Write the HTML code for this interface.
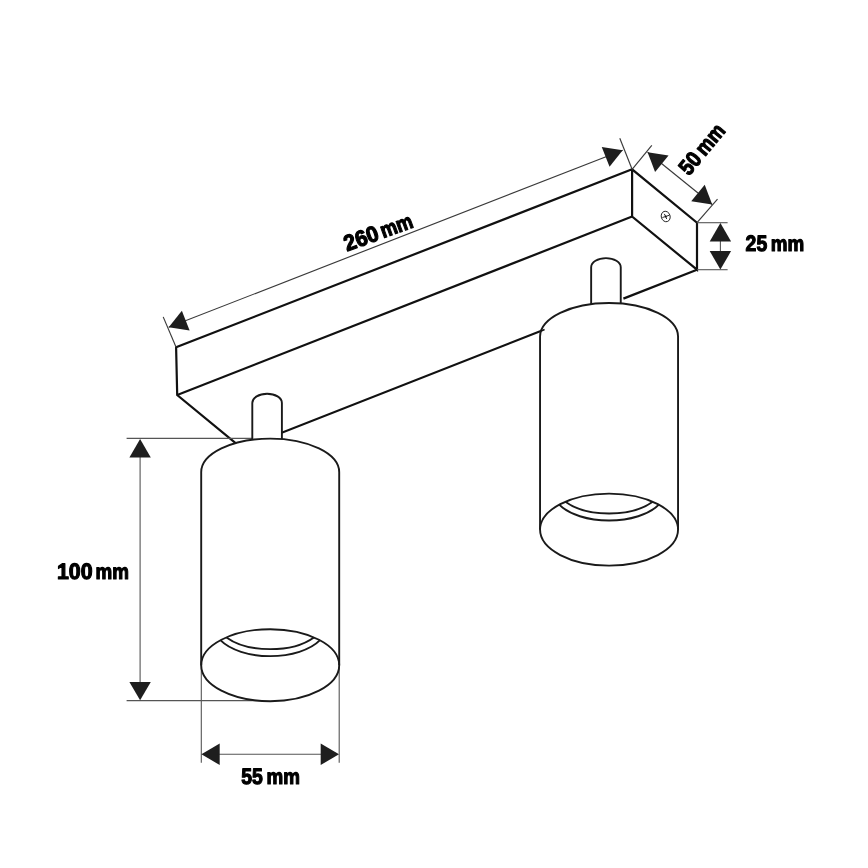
<!DOCTYPE html>
<html><head><meta charset="utf-8"><title>Spot light dimensions</title>
<style>
html,body{margin:0;padding:0;background:#fff;width:868px;height:868px;overflow:hidden}
svg{display:block;will-change:transform}
.ol{stroke:#111;stroke-width:2.2;fill:none;stroke-linejoin:miter;stroke-linecap:butt}
.ol2{stroke:#1a1a1a;stroke-width:1.9}
.th{stroke:#3a3a3a;stroke-width:1.15}
.th2{stroke:#555;stroke-width:1.1}
.ar{fill:#1e1e1e}
.tx text{text-rendering:geometricPrecision;font-family:"Liberation Sans",sans-serif;font-weight:bold;fill:#000;stroke:#000;stroke-width:1.15;stroke-linejoin:round}
</style></head><body>
<svg width="868" height="868" viewBox="0 0 868 868"><rect width="868" height="868" fill="#fff"/><path d="M242.0 448.4L177.2 395.0L176.1 347.3L632.1 169.3L697.0 222.7L697.0 269.7L632.1 216.6L632.1 169.3" class="ol"/><line x1="177.20" y1="395.00" x2="632.10" y2="216.60" class="ol"/><path d="M242.0 448.4L544.6 329.55M623.4 298.61L697.0 269.7" class="ol"/><g transform="translate(665.7 216.5)"><ellipse cx="0" cy="0" rx="4.4" ry="5.3" transform="rotate(-18)" fill="none" stroke="#111" stroke-width="0.85"/><path d="M-3.3 1.0L0 0L3.6 -1.3M-1.4 -2.6L0 0L1.0 2.5" fill="none" stroke="#111" stroke-width="0.9"/><circle r="0.9" fill="#111"/></g><line x1="168.70" y1="327.30" x2="622.70" y2="150.20" class="th"/><path d="M168.70 327.30L181.86 310.68L189.64 330.62Z" class="ar"/><path d="M622.70 150.20L609.54 166.82L601.76 146.88Z" class="ar"/><line x1="163.20" y1="316.90" x2="176.10" y2="347.30" class="th"/><line x1="619.80" y1="138.20" x2="632.10" y2="169.30" class="th"/><line x1="647.60" y1="152.20" x2="712.20" y2="204.50" class="th"/><path d="M647.60 152.20L668.56 155.40L655.09 172.03Z" class="ar"/><path d="M712.20 204.50L691.24 201.30L704.71 184.67Z" class="ar"/><line x1="651.80" y1="145.30" x2="632.10" y2="169.30" class="th"/><line x1="717.50" y1="199.20" x2="697.00" y2="222.70" class="th"/><line x1="697.00" y1="222.70" x2="727.60" y2="222.70" class="th2"/><line x1="697.00" y1="269.70" x2="727.60" y2="269.70" class="th2"/><line x1="720.40" y1="240.00" x2="720.40" y2="252.00" class="th2"/><path d="M720.40 223.10L731.10 241.40L709.70 241.40Z" class="ar"/><path d="M720.40 269.40L709.70 251.10L731.10 251.10Z" class="ar"/><line x1="126.60" y1="438.40" x2="265.00" y2="438.40" class="th2"/><line x1="126.60" y1="700.60" x2="265.00" y2="700.60" class="th2"/><line x1="140.10" y1="450.00" x2="140.10" y2="690.00" class="th2"/><path d="M140.10 439.10L150.80 457.40L129.40 457.40Z" class="ar"/><path d="M140.10 700.20L129.40 681.90L150.80 681.90Z" class="ar"/><line x1="201.30" y1="665.00" x2="201.30" y2="762.80" class="th2"/><line x1="339.20" y1="665.00" x2="339.20" y2="762.80" class="th2"/><line x1="210.00" y1="754.30" x2="330.00" y2="754.30" class="th2"/><path d="M201.40 754.30L219.70 743.60L219.70 765.00Z" class="ar"/><path d="M339.00 754.30L320.70 765.00L320.70 743.60Z" class="ar"/><path d="M252.3 445L252.3 402.9A14.799999999999983 9.2 0 0 1 281.9 402.9L281.9 445Z" class="ol2" fill="#fff"/><path d="M201.2 472.2A69 33.6 0 0 1 339.2 472.2L339.2 665.2A69 36.0 0 0 1 201.2 665.2Z" class="ol2" fill="#fff"/><path d="M201.2 665.2A69 36.0 0 0 1 339.2 665.2" class="ol2" fill="none"/><path d="M220.4 640.2A56 29.4 0 0 0 320.0 640.2" class="ol2" fill="none"/><path d="M226.5 637.4A54 28.4 0 0 0 313.9 637.4" class="ol2" fill="none"/><path d="M591.1500000000001 309.4L591.1500000000001 267.3A14.799999999999955 9.2 0 0 1 620.75 267.3L620.75 309.4Z" class="ol2" fill="#fff"/><path d="M540.05 336.6A69 33.6 0 0 1 678.05 336.6L678.05 529.6A69 36.0 0 0 1 540.05 529.6Z" class="ol2" fill="#fff"/><path d="M540.05 529.6A69 36.0 0 0 1 678.05 529.6" class="ol2" fill="none"/><path d="M559.25 504.6A56 29.4 0 0 0 658.85 504.6" class="ol2" fill="none"/><path d="M565.35 501.79999999999995A54 28.4 0 0 0 652.75 501.79999999999995" class="ol2" fill="none"/><line x1="541.2" y1="330.9" x2="544.6" y2="329.6" stroke="#111" stroke-width="1.6"/><g class="tx"><g transform="translate(58.5 579) rotate(0)"><text x="-1.5" y="0" textLength="35.6" lengthAdjust="spacingAndGlyphs" font-size="22.3">100</text><text x="37.0" y="0" textLength="33.4" lengthAdjust="spacingAndGlyphs" font-size="21.6">mm</text></g><g transform="translate(241.3 784.1) rotate(0)"><text x="-0.0" y="0" textLength="21.6" lengthAdjust="spacingAndGlyphs" font-size="22.3">55</text><text x="25.2" y="0" textLength="33.4" lengthAdjust="spacingAndGlyphs" font-size="21.6">mm</text></g><g transform="translate(745.6 251.2) rotate(0)"><text x="-0.0" y="0" textLength="21.6" lengthAdjust="spacingAndGlyphs" font-size="22.3">25</text><text x="25.2" y="0" textLength="33.4" lengthAdjust="spacingAndGlyphs" font-size="21.6">mm</text></g><g transform="translate(348.4 251.0) rotate(-20.0)"><text x="-1.5" y="0" textLength="35.6" lengthAdjust="spacingAndGlyphs" font-size="22.3">260</text><text x="37.0" y="0" textLength="33.4" lengthAdjust="spacingAndGlyphs" font-size="21.6">mm</text></g><g transform="translate(689.1 176.4) rotate(-50.5)"><text x="-0.0" y="0" textLength="21.6" lengthAdjust="spacingAndGlyphs" font-size="22.3">50</text><text x="25.2" y="0" textLength="33.4" lengthAdjust="spacingAndGlyphs" font-size="21.6">mm</text></g></g></svg>
</body></html>
